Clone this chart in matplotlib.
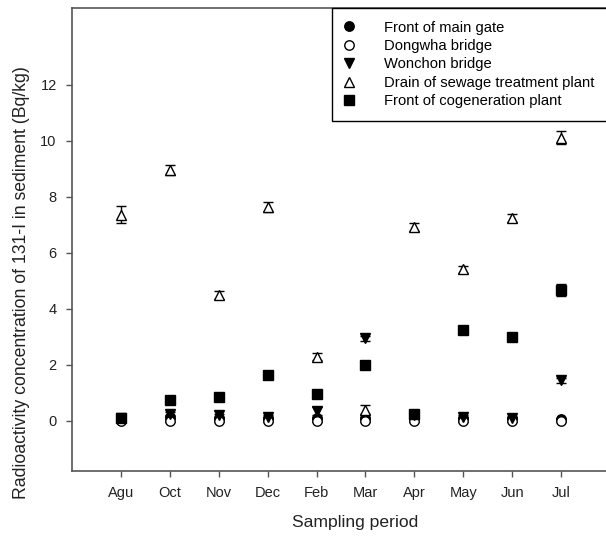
import matplotlib
matplotlib.use("Agg")
import matplotlib.pyplot as plt
from matplotlib.lines import Line2D
import numpy as np

plt.rcParams['font.family'] = ['Liberation Sans', 'DejaVu Sans']

months = ["Agu", "Oct", "Nov", "Dec", "Feb", "Mar", "Apr", "May", "Jun", "Jul"]

main_gate = [0.10, 0.15, 0.10, 0.10, 0.10, 0.10, 0.10, 0.10, 0.10, 0.05]
main_gate_err = [0.05, 0.05, 0.05, 0.05, 0.05, 0.05, 0.05, 0.05, 0.05, 0.05]
dongwha = [0.0, 0.0, 0.0, 0.0, 0.0, 0.0, 0.0, 0.0, 0.0, 0.0]
dongwha_err = [0.05, 0.05, 0.05, 0.05, 0.05, 0.05, 0.05, 0.05, 0.05, 0.05]
wonchon = [0.10, 0.25, 0.20, 0.15, 0.35, 2.95, 0.20, 0.15, 0.10, 1.45]
wonchon_err = [0.05, 0.08, 0.05, 0.05, 0.15, 0.10, 0.05, 0.05, 0.05, 0.08]
drain = [7.36, 8.95, 4.50, 7.64, 2.30, 0.40, 6.92, 5.42, 7.25, 10.12]
drain_err = [0.30, 0.18, 0.15, 0.18, 0.12, 0.15, 0.15, 0.12, 0.15, 0.22]
cogen = [0.10, 0.75, 0.85, 1.65, 0.95, 2.00, 0.25, 3.25, 3.00, 4.68]
cogen_err = [0.08, 0.08, 0.12, 0.08, 0.10, 0.15, 0.08, 0.12, 0.10, 0.22]

series = [
    ("Front of main gate", main_gate, main_gate_err, 'o', 'black'),
    ("Dongwha bridge", dongwha, dongwha_err, 'o', 'white'),
    ("Wonchon bridge", wonchon, wonchon_err, 'v', 'black'),
    ("Drain of sewage treatment plant", drain, drain_err, '^', 'white'),
    ("Front of cogeneration plant", cogen, cogen_err, 's', 'black'),
]

fig = plt.figure(figsize=(6.06, 5.36), dpi=100)
ax = fig.add_axes([72/606, 65/536, (610-72)/606, (471-8)/536])

x = np.arange(len(months))
ms = 6.8
handles = []
for label, vals, errs, mk, fc in series:
    ax.errorbar(x, vals, yerr=errs, marker=mk, ms=ms, mfc=fc, mec='black', mew=1.0,
                ls='none', ecolor='black', elinewidth=1.0, capsize=3.5, capthick=1.0)
    handles.append(Line2D([], [], ls='none', marker=mk, ms=ms, mfc=fc, mec='black',
                          mew=1.0, label=label))

ax.set_xlim(-1, 10)
ax.set_ylim(-1.79, 14.75)
ax.set_xticks(x)
ax.set_xticklabels(months)
ax.set_yticks(np.arange(0, 13, 2))
ax.tick_params(direction='out', length=4, width=1, color='#555555', labelsize=10.5,
               pad=7, labelcolor='#222222')
for side in ['left', 'bottom', 'top', 'right']:
    ax.spines[side].set_color('#555555')
    ax.spines[side].set_linewidth(1.2)

ax.set_xlabel('Sampling period', fontsize=12.6, color='#222222')
ax.xaxis.set_label_coords((355 - 72) / 538, -(522 - 471) / 463)
ax.xaxis.label.set_va('center')
ax.set_ylabel('Radioactivity concentration of 131-I in sediment (Bq/kg)', fontsize=12.7,
              color='#222222')
ax.yaxis.set_label_coords(-(72 - 22) / 538, (471 - 283) / 463)
ax.yaxis.label.set_va('center')

leg = ax.legend(handles=handles, loc='upper left', bbox_to_anchor=(332/606, 1 - 8/536),
                bbox_transform=fig.transFigure, fancybox=False, framealpha=1,
                edgecolor='black', fontsize=10.6, handletextpad=2.1, labelspacing=0.3,
                borderpad=0.85, handlelength=0.6, borderaxespad=0)
leg.get_frame().set_linewidth(1.0)

fig.savefig('out.png', dpi=100)
